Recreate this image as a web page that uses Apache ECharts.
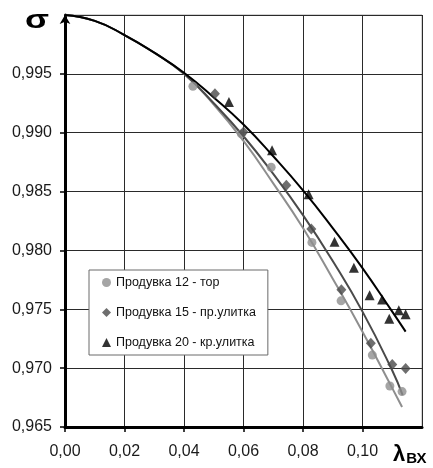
<!DOCTYPE html>
<html>
<head>
<meta charset="utf-8">
<script src="https://cdn.jsdelivr.net/npm/echarts@6/dist/echarts.min.js"></script>
<style>
  html, body { margin: 0; padding: 0; background: #fff; }
  #chart { width: 433px; height: 468px; }
</style>
</head>
<body>
<div id="chart"></div>
<script>
// Measured points, λвх vs σ
const torX  = [0.0430, 0.0593, 0.0693, 0.0830, 0.0928, 0.1033, 0.1092, 0.1133];
const torY  = [0.99395, 0.9899, 0.98707, 0.98068, 0.97572, 0.97111, 0.96848, 0.96801];
const prX   = [0.0504, 0.0600, 0.0744, 0.0828, 0.0929, 0.1028, 0.1100, 0.1145];
const prY   = [0.99331, 0.99007, 0.98554, 0.98181, 0.97667, 0.97211, 0.97032, 0.96998];
const krX   = [0.0551, 0.0696, 0.0819, 0.0906, 0.0971, 0.1024, 0.1066, 0.1090, 0.1122, 0.1145];
const krY   = [0.99261, 0.98851, 0.98478, 0.98073, 0.97852, 0.97620, 0.97584, 0.97419, 0.97491, 0.97457];

// Trend curves
const torTrendX = [0, 0.01, 0.02, 0.03, 0.04, 0.05, 0.06, 0.07, 0.08, 0.09, 0.10, 0.11, 0.1133];
const torTrendY = [1.0000, 0.9995, 0.9983, 0.9968, 0.9950, 0.9924, 0.9893, 0.9857, 0.9819, 0.9776, 0.9731, 0.9683, 0.9667];
const prTrendX  = [0, 0.01, 0.02, 0.03, 0.04, 0.05, 0.06, 0.07, 0.08, 0.09, 0.10, 0.11, 0.1135];
const prTrendY  = [1.0000, 0.9995, 0.9983, 0.9968, 0.9950, 0.9925, 0.9897, 0.9865, 0.9830, 0.9791, 0.9748, 0.9698, 0.9677];
const krTrendX  = [0, 0.01, 0.02, 0.03, 0.04, 0.05, 0.06, 0.07, 0.08, 0.09, 0.10, 0.11, 0.1145];
const krTrendY  = [1.0000, 0.9995, 0.9983, 0.9968, 0.9951, 0.9930, 0.9907, 0.9880, 0.9851, 0.9819, 0.9785, 0.9748, 0.9731];

const seriesNames = ['Продувка 12 - тор', 'Продувка 15 - пр.улитка', 'Продувка 20 - кр.улитка'];

const xMin = 0, xMax = 0.12, xStep = 0.02;
const yMin = 0.965, yMax = 1.0, yStep = 0.005;

const zip = (xs, ys) => xs.map((x, i) => [x, ys[i]]);
const comma = (v, d) => v.toFixed(d).replace('.', ',');

const FONT = '"Liberation Sans", Arial, sans-serif';
const cLight = '#8e8e8e', cDark = '#4a4a4a', cBlack = '#000000';

const chart = echarts.init(document.getElementById('chart'), null, { renderer: 'canvas' });

chart.setOption({
  backgroundColor: '#ffffff',
  animation: false,
  grid: {
    left: 65, top: 15, width: 357, height: 412,
    show: true, borderColor: '#a8a8a8', borderWidth: 1, backgroundColor: 'transparent'
  },
  xAxis: {
    type: 'value', min: xMin, max: xMax, interval: xStep,
    axisLine: { show: true, onZero: false, lineStyle: { color: '#000', width: 3 } },
    axisTick: { show: true, length: 5, inside: false, lineStyle: { color: '#000', width: 1.5 } },
    splitLine: { show: true, lineStyle: { color: '#2a2a2a', width: 1 } },
    axisLabel: {
      margin: 17, color: '#1a1a1a', fontFamily: FONT, fontSize: 16,
      showMaxLabel: false, formatter: v => comma(v, 2)
    }
  },
  yAxis: {
    type: 'value', min: yMin, max: yMax, interval: yStep,
    axisLine: {
      show: true, onZero: false, symbol: ['none', 'arrow'], symbolSize: [8, 9],
      lineStyle: { color: '#000', width: 3 }
    },
    axisTick: { show: true, length: 5, inside: false, lineStyle: { color: '#000', width: 1.5 } },
    splitLine: { show: true, lineStyle: { color: '#2a2a2a', width: 1 } },
    axisLabel: {
      margin: 13, color: '#1a1a1a', fontFamily: FONT, fontSize: 16,
      showMaxLabel: false, formatter: v => comma(v, 3)
    }
  },
  legend: {
    show: true, orient: 'vertical', left: 89, top: 270,
    data: seriesNames,
    backgroundColor: '#ffffff', borderColor: '#6a6a6a', borderWidth: 1,
    padding: [6, 12, 6, 13],
    itemWidth: 9, itemHeight: 9, itemGap: 17,
    textStyle: { fontFamily: FONT, fontSize: 12.5, color: '#111' },
    z: 20
  },
  graphic: [
    {
      type: 'text', left: 25, top: 8, z: 30, scaleX: 1.35,
      style: { text: 'σ', font: 'bold 26px ' + FONT, fill: '#000' }
    },
    {
      type: 'text', left: 393, top: 444, z: 30,
      style: {
        text: '{a|λ}{b|ВХ}',
        rich: {
          a: { font: 'bold 22px ' + FONT, fill: '#000', verticalAlign: 'bottom' },
          b: { font: 'bold 15px ' + FONT, fill: '#000', verticalAlign: 'bottom', padding: [0, 0, 0, 1] }
        }
      }
    }
  ],
  series: [
    {
      name: 'trend-tor', type: 'line', data: zip(torTrendX, torTrendY),
      smooth: true, showSymbol: false, silent: true, z: 3,
      lineStyle: { color: cLight, width: 2 }
    },
    {
      name: 'trend-pr', type: 'line', data: zip(prTrendX, prTrendY),
      smooth: true, showSymbol: false, silent: true, z: 3,
      lineStyle: { color: cDark, width: 2 }
    },
    {
      name: 'trend-kr', type: 'line', data: zip(krTrendX, krTrendY),
      smooth: true, showSymbol: false, silent: true, z: 3,
      lineStyle: { color: cBlack, width: 2 }
    },
    {
      name: seriesNames[0], type: 'scatter', data: zip(torX, torY),
      symbol: 'circle', symbolSize: 9, z: 4,
      itemStyle: { color: cLight }
    },
    {
      name: seriesNames[1], type: 'scatter', data: zip(prX, prY),
      symbol: 'diamond', symbolSize: [10, 11], z: 4,
      itemStyle: { color: cDark }
    },
    {
      name: seriesNames[2], type: 'scatter', data: zip(krX, krY),
      symbol: 'triangle', symbolSize: [10, 10], z: 4,
      itemStyle: { color: cBlack }
    }
  ]
});
</script>
</body>
</html>
